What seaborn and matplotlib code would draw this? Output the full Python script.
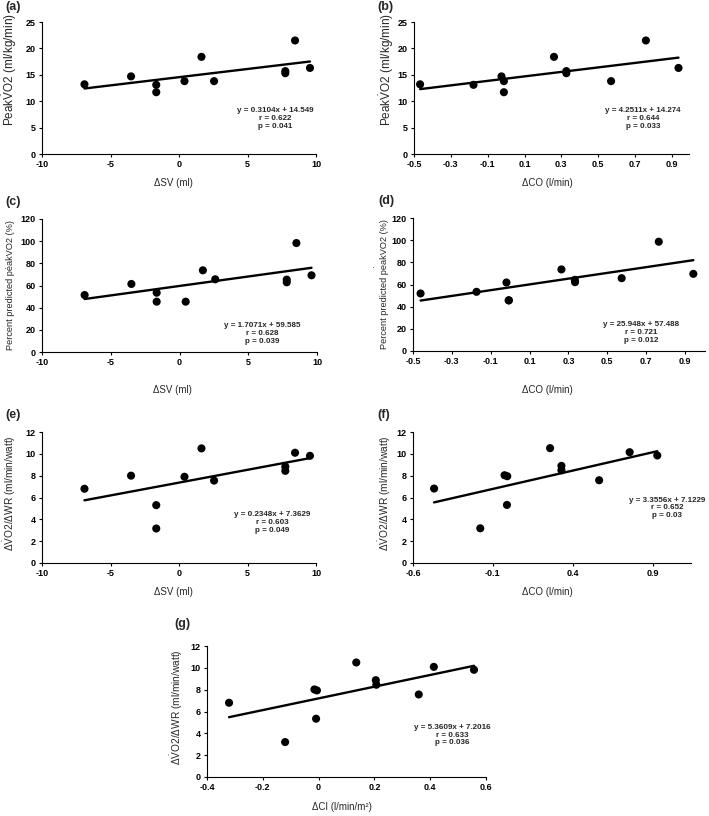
import numpy as np
import pandas as pd
import matplotlib
matplotlib.use("Agg")
import matplotlib.pyplot as plt
import seaborn as sns

# ---------------- data ----------------
sv_a = [-6.9, -3.5, -1.66, -1.66, 0.4, 1.64, 2.56, 7.76, 7.76, 8.47, 9.56]
peak_a = [13.2, 14.7, 13.1, 11.7, 13.8, 18.4, 13.8, 15.7, 15.3, 21.5, 16.3]

co_b = [-0.467, -0.177, -0.025, -0.012, -0.012, 0.26, 0.327, 0.327, 0.57, 0.759, 0.936]
peak_b = [13.2, 13.1, 14.7, 13.8, 11.7, 18.4, 15.7, 15.3, 13.8, 21.5, 16.3]

sv_c = [-6.9, -3.5, -1.66, -1.66, 0.45, 1.7, 2.6, 7.8, 7.8, 8.5, 9.6]
pct_c = [51.4, 61.4, 53.5, 45.4, 45.4, 73.7, 65.6, 65.3, 62.9, 98.3, 69.2]

co_d = [-0.461, -0.173, -0.019, -0.007, -0.007, 0.264, 0.333, 0.334, 0.574, 0.765, 0.943]
pct_d = [51.9, 53.4, 61.8, 45.8, 45.6, 73.6, 64.2, 62.1, 65.7, 98.6, 69.6]

sv_e = [-6.9, -3.5, -1.66, -1.66, 0.4, 1.64, 2.56, 7.76, 7.76, 8.47, 9.56]
wr_e = [6.8, 8.0, 5.3, 3.16, 7.9, 10.5, 7.55, 8.83, 8.44, 10.1, 9.82]

co_f = [-0.468, -0.179, -0.027, -0.010, -0.012, 0.258, 0.329, 0.329, 0.565, 0.756, 0.929]
wr_f = [6.82, 3.18, 8.04, 7.95, 5.32, 10.52, 8.9, 8.5, 7.58, 10.15, 9.85]

ci_g = [-0.321, -0.120, -0.015, -0.006, -0.009, 0.135, 0.205, 0.207, 0.359, 0.413, 0.557]
wr_g = [6.8, 3.2, 8.02, 7.93, 5.34, 10.49, 8.87, 8.45, 7.56, 10.09, 9.82]

slopes = [0.3104, 4.2511, 1.7071, 25.948, 0.2348, 3.3556, 5.3609]
intercepts = [14.549, 14.274, 59.585, 57.488, 7.3629, 7.1229, 7.2016]
stats_text = [
    "y = 0.3104x + 14.549\nr = 0.622\np = 0.041",
    "y = 4.2511x + 14.274\nr = 0.644\np = 0.033",
    "y = 1.7071x + 59.585\nr = 0.628\np = 0.039",
    "y = 25.948x + 57.488\nr = 0.721\np = 0.012",
    "y = 0.2348x + 7.3629\nr = 0.603\np = 0.049",
    "y = 3.3556x + 7.1229\nr = 0.652\np = 0.03",
    "y = 5.3609x + 7.2016\nr = 0.633\np = 0.036",
]
panel_letters = ["(a)", "(b)", "(c)", "(d)", "(e)", "(f)", "(g)"]

xt_sv = [-10, -5, 0, 5, 10]
xl_sv = ["-10", "-5", "0", "5", "10"]
xt_co = [-0.5, -0.3, -0.1, 0.1, 0.3, 0.5, 0.7, 0.9]
xl_co = ["-0.5", "-0.3", "-0.1", "0.1", "0.3", "0.5", "0.7", "0.9"]
xt_co2 = [-0.6, -0.1, 0.4, 0.9]
xl_co2 = ["-0.6", "-0.1", "0.4", "0.9"]
xt_ci = [-0.4, -0.2, 0, 0.2, 0.4, 0.6]
xl_ci = ["-0.4", "-0.2", "0", "0.2", "0.4", "0.6"]
yt_peak = [0, 5, 10, 15, 20, 25]
yt_pct = [0, 20, 40, 60, 80, 100, 120]
yt_wr = [0, 2, 4, 6, 8, 10, 12]

xlab_sv = "\u0394SV (ml)"
xlab_co = "\u0394CO (l/min)"
xlab_ci = "\u0394CI (l/min/m\u00b2)"
ylab_peak = r"Peak$\dot{\mathrm{V}}$O2 (ml/kg/min)"
ylab_pct = "Percent predicted peakVO2 (%)"
ylab_wr = r"\u0394$\dot{\mathrm{V}}$O2/\u0394WR (ml/min/watt)".replace("\\u0394", "\u0394")

# ---------------- style ----------------
sns.set_style("ticks")
plt.rcParams['font.family'] = ['Liberation Sans', 'DejaVu Sans']
plt.rcParams['mathtext.fontset'] = 'custom'
plt.rcParams['mathtext.rm'] = 'Liberation Sans'
plt.rcParams['mathtext.it'] = 'Liberation Sans:italic'
plt.rcParams['mathtext.bf'] = 'Liberation Sans:bold'

W, H = 709, 816
fig = plt.figure(figsize=(W / 100, H / 100), dpi=100)


def add_ax(l, r, t, b):
    return fig.add_axes([l / W, (H - b) / H, (r - l) / W, (b - t) / H])


def panel(ax, x, y, k, xlim, xt, xl, ylim, yt, xlabel, ylabel,
          xlab_pos, ylab_pos, ylab_size, txt_pos):
    df = pd.DataFrame({"x": x, "y": y})
    xs = [min(x), max(x)]
    ldf = pd.DataFrame({"x": xs, "y": [slopes[k] * v + intercepts[k] for v in xs]})
    sns.lineplot(data=ldf, x="x", y="y", ax=ax, color="black", lw=1.7, zorder=2)
    sns.scatterplot(data=df, x="x", y="y", ax=ax, color="black", s=34,
                    edgecolor="none", zorder=3, clip_on=False)
    ax.set_xlim(*xlim)
    ax.set_ylim(*ylim)
    ax.set_xticks(xt)
    ax.set_xticklabels(xl)
    ax.set_yticks(yt)
    ax.set_yticklabels([str(v) for v in yt])
    sns.despine(ax=ax)
    for sp in ["left", "bottom"]:
        ax.spines[sp].set_linewidth(0.8)
        ax.spines[sp].set_color("black")
    ax.tick_params(axis="both", length=2.5, width=0.8, pad=2, labelsize=6.5,
                   colors="black")
    for lab in ax.get_xticklabels() + ax.get_yticklabels():
        lab.set_fontweight("bold")
    ax.set_xlabel(xlabel, fontsize=7)
    ax.set_ylabel(ylabel, fontsize=ylab_size)
    ax.xaxis.label.set_va("center")
    ax.yaxis.label.set_va("center")
    ax.xaxis.set_label_coords(*xlab_pos)
    ax.yaxis.set_label_coords(*ylab_pos)
    ax.text(txt_pos[0], txt_pos[1], stats_text[k], transform=ax.transAxes,
            ha="center", va="center", multialignment="center", fontsize=5.8,
            fontweight="bold", linespacing=1.15, clip_on=False)


ax_a = add_ax(42, 316, 22, 154)
panel(ax_a, sv_a, peak_a, 0, (-10, 10), xt_sv, xl_sv, (0, 25), yt_peak,
      xlab_sv, ylab_peak, (0.478, -0.22), (-0.117, 0.64), 8.5, (0.85, 0.27))

ax_b = add_ax(414, 689, 22, 154)
panel(ax_b, co_b, peak_b, 1, (-0.5, 0.993), xt_co, xl_co, (0, 25), yt_peak,
      xlab_co, ylab_peak, (0.484, -0.22), (-0.098, 0.64), 8.5, (0.833, 0.27))

ax_c = add_ax(42, 317, 219, 352)
panel(ax_c, sv_c, pct_c, 2, (-10, 10), xt_sv, xl_sv, (0, 120), yt_pct,
      xlab_sv, ylab_pct, (0.473, -0.285), (-0.113, 0.5), 6.6, (0.80, 0.14))

ax_d = add_ax(413, 705, 218, 351)
panel(ax_d, co_d, pct_d, 3, (-0.5, 1.003), xt_co, xl_co, (0, 120), yt_pct,
      xlab_co, ylab_pct, (0.459, -0.29), (-0.096, 0.5), 6.6, (0.78, 0.14))

ax_e = add_ax(42, 316, 432, 563)
panel(ax_e, sv_e, wr_e, 4, (-10, 10), xt_sv, xl_sv, (0, 12), yt_wr,
      xlab_sv, ylab_wr, (0.478, -0.22), (-0.117, 0.53), 7.3, (0.84, 0.31))

ax_f = add_ax(413, 691, 432, 563)
panel(ax_f, co_f, wr_f, 5, (-0.6, 1.14), xt_co2, xl_co2, (0, 12), yt_wr,
      xlab_co, ylab_wr, (0.482, -0.22), (-0.10, 0.53), 7.3, (0.915, 0.42))

ax_g = add_ax(207, 486, 646, 777)
panel(ax_g, ci_g, wr_g, 6, (-0.4, 0.6), xt_ci, xl_ci, (0, 12), yt_wr,
      xlab_ci, ylab_wr, (0.484, -0.23), (-0.108, 0.53), 7.3, (0.88, 0.32))

# panel letters
letter_pos = [(13, 7), (385, 7), (13, 202), (386, 201), (13, 415), (384, 415), (182, 624)]
for lab, (px, py) in zip(panel_letters, letter_pos):
    fig.text(px / W, 1 - py / H, lab, ha="center", va="center",
             fontsize=9, fontweight="bold")

# stray dots of the y-labels in (c) and (d)
for px, py in [(5, 269), (373, 268)]:
    fig.text(px / W, 1 - py / H, "\u00b7", ha="center", va="center", fontsize=7)

fig.savefig("out.png", dpi=100)
